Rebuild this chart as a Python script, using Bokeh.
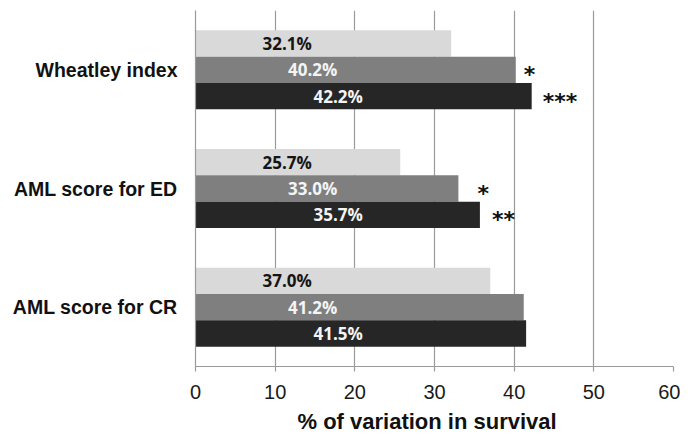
from bokeh.plotting import figure
from bokeh.models import FactorRange, ColumnDataSource, FixedTicker, Range1d, Title
from bokeh.transform import dodge
from bokeh.core.properties import value
from bokeh.embed import file_html
from bokeh.resources import INLINE

# ---- data ----
categories = ["AML score for CR", "AML score for ED", "Wheatley index"]
series_light = [37.0, 25.7, 32.1]
series_mid = [41.2, 33.0, 40.2]
series_dark = [41.5, 35.7, 42.2]
stars_mid = ["", "*", "*"]
stars_dark = ["", "**", "***"]
x_ticks = [0, 10, 20, 30, 40, 50, 60]
x_title = "% of variation in survival"

# ---- layout / style ----
colors = ["#d9d9d9", "#7f7f7f", "#262626"]
label_colors = ["#151515", "#f4f4f4", "#f4f4f4"]
label_x = [11.5, 14.7, 17.9]          # label anchor per series (data units)
offsets = [0.222, 0.0, -0.222]
bar_h = 0.222
star_px_mid = [0, 19, 8]
star_px_dark = [0, 12, 11]

p = figure(width=680, height=440, output_backend="svg", toolbar_location=None,
           x_range=Range1d(0, 60), y_range=FactorRange(*categories, range_padding=0),
           min_border_left=195, min_border_right=7, min_border_top=10, min_border_bottom=74)
p.outline_line_color = None
p.background_fill_color = "white"

all_series = [series_light, series_mid, series_dark]
for i, vals in enumerate(all_series):
    src = ColumnDataSource(dict(
        cat=categories, val=vals,
        lx=[label_x[i]] * len(vals),
        txt=[f"{v:.1f}%" for v in vals],
    ))
    y = dodge("cat", offsets[i], range=p.y_range)
    p.hbar(y=y, left=0, right="val", height=bar_h, source=src,
           fill_color=colors[i], line_color=None)
    p.text(x="lx", y=y, text="txt", source=src, text_align="center",
           text_baseline="middle", text_font=value("Open Sans"),
           text_font_style="bold", text_font_size="17px",
           text_color=label_colors[i])

for i, (stars, offs) in zip([1, 2], [(stars_mid, star_px_mid), (stars_dark, star_px_dark)]):
    vals = all_series[i]
    src = ColumnDataSource(dict(cat=categories, val=vals, s=stars, off=offs))
    y = dodge("cat", offsets[i], range=p.y_range)
    p.text(x="val", y=y, text="s", source=src, x_offset="off", y_offset=5,
           text_align="left", text_baseline="middle",
           text_font=value("DejaVu Sans"), text_font_style="bold",
           text_font_size="22px", text_color="#111111")

grid_c = "#9a9a9a"
p.ygrid.grid_line_color = None
p.xgrid.ticker = FixedTicker(ticks=x_ticks)
p.xgrid.grid_line_color = grid_c
p.xgrid.grid_line_width = 1.2

xa = p.xaxis[0]
xa.ticker = FixedTicker(ticks=x_ticks)
xa.axis_line_color = grid_c
xa.axis_line_width = 1.2
xa.major_tick_line_color = grid_c
xa.major_tick_line_width = 1.2
xa.major_tick_out = 5
xa.major_tick_in = 0
xa.minor_tick_line_color = None
xa.major_label_standoff = 13
xa.major_label_text_font = "Liberation Sans"
xa.major_label_text_font_size = "20px"
xa.major_label_text_color = "#1a1a1a"

t = Title(text=x_title, align="left", offset=102, standoff=11,
          text_font="Liberation Sans", text_font_style="bold",
          text_font_size="22px", text_color="#111111")
p.add_layout(t, "below")

ya = p.yaxis[0]
ya.axis_line_color = grid_c
ya.axis_line_width = 1.2
ya.major_tick_line_color = None
ya.major_tick_out = 0
ya.major_tick_in = 0
ya.minor_tick_line_color = None
ya.major_label_standoff = 18
ya.major_label_text_font = "Liberation Sans"
ya.major_label_text_font_style = "bold"
ya.major_label_text_font_size = "19.5px"
ya.major_label_text_color = "#111111"

open("out.html", "w").write(file_html(p, INLINE))
